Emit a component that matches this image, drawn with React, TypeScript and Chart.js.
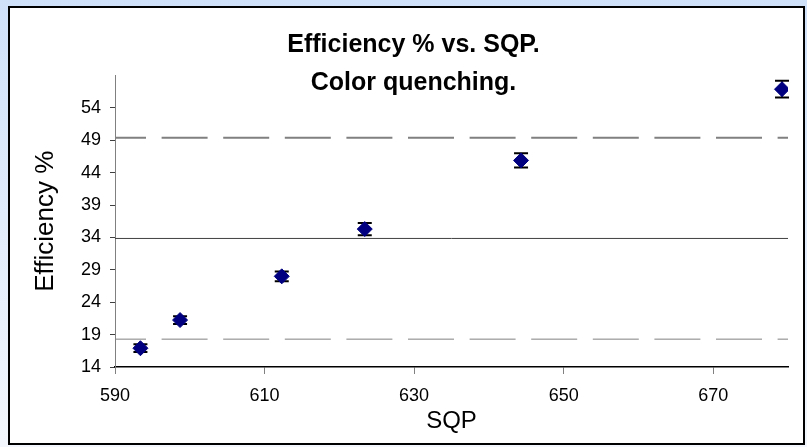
import React, { useEffect, useRef } from "react";
import { Chart, registerables } from "chart.js";

Chart.register(...registerables);

// ---- data ----
const sqp = [593.4, 598.7, 612.3, 623.4, 644.3, 679.2];
const efficiency = [16.9, 21.25, 28.0, 35.3, 45.9, 56.9];
const efficiencyError = [0.6, 0.6, 0.75, 0.95, 1.1, 1.3];
const refRange = [590, 680];
const upperLimit = 49.4;
const meanLine = 33.85;
const lowerLimit = 18.3;
const xTicks = [590, 610, 630, 650, 670];
const yTicks = [14, 19, 24, 29, 34, 39, 44, 49, 54];
const titleLines = ["Efficiency % vs. SQP.", "Color quenching."];
const xTitle = "SQP";
const yTitle = "Efficiency %";

const FONT = '"Liberation Sans", Arial, sans-serif';

const errorBarPlugin = {
  id: "errorBars",
  beforeDatasetsDraw(chart: any) {
    const ctx = chart.ctx;
    const xs = chart.scales.x;
    const ys = chart.scales.y;
    ctx.save();
    ctx.strokeStyle = "#000000";
    sqp.forEach((xv, i) => {
      const px = xs.getPixelForValue(xv);
      const top = ys.getPixelForValue(efficiency[i] + efficiencyError[i]);
      const bot = ys.getPixelForValue(efficiency[i] - efficiencyError[i]);
      ctx.lineWidth = 1.5;
      ctx.beginPath();
      ctx.moveTo(px, top);
      ctx.lineTo(px, bot);
      ctx.stroke();
      ctx.lineWidth = 2;
      ctx.beginPath();
      ctx.moveTo(px - 7, top);
      ctx.lineTo(px + 7, top);
      ctx.moveTo(px - 7, bot);
      ctx.lineTo(px + 7, bot);
      ctx.stroke();
    });
    ctx.restore();
  },
};

const titlePlugin = {
  id: "twoLineTitle",
  afterDraw(chart: any) {
    const ctx = chart.ctx;
    ctx.save();
    ctx.font = "bold 25px " + FONT;
    ctx.fillStyle = "#000000";
    ctx.textAlign = "center";
    ctx.textBaseline = "alphabetic";
    const cx = chart.width / 2 + 7;
    ctx.fillText(titleLines[0], cx, 44);
    ctx.fillText(titleLines[1], cx, 82);
    ctx.restore();
  },
};

export default function App() {
  const ref = useRef<HTMLCanvasElement | null>(null);

  useEffect(() => {
    if (!ref.current) return;
    const refLine = (v: number) => [
      { x: refRange[0], y: v },
      { x: refRange[1], y: v },
    ];
    const chart = new Chart(ref.current, {
      type: "scatter",
      data: {
        datasets: [
          {
            type: "scatter",
            label: "Efficiency",
            data: sqp.map((x, i) => ({ x, y: efficiency[i] })),
            pointStyle: "rectRot",
            pointRadius: 7.5,
            pointHoverRadius: 7.5,
            backgroundColor: "#000080",
            borderColor: "#000080",
            borderWidth: 1,
          } as any,
          {
            type: "line",
            label: "upper",
            data: refLine(upperLimit),
            borderColor: "#808080",
            borderWidth: 2,
            borderDash: [46, 15.6],
            borderDashOffset: 15,
            pointRadius: 0,
            showLine: true,
            fill: false,
          } as any,
          {
            type: "line",
            label: "mean",
            data: refLine(meanLine),
            borderColor: "#404040",
            borderWidth: 1,
            pointRadius: 0,
            showLine: true,
            fill: false,
          } as any,
          {
            type: "line",
            label: "lower",
            data: refLine(lowerLimit),
            borderColor: "#808080",
            borderWidth: 1,
            borderDash: [46, 15.6],
            borderDashOffset: 15,
            pointRadius: 0,
            showLine: true,
            fill: false,
          } as any,
        ],
      },
      options: {
        animation: false,
        responsive: false,
        devicePixelRatio: 1,
        layout: { padding: { top: 67.6, right: 15, left: 0, bottom: 0 } },
        plugins: {
          legend: { display: false },
          tooltip: { enabled: false },
          title: { display: false },
        },
        scales: {
          x: {
            type: "linear",
            min: 590,
            max: 680,
            afterBuildTicks: (scale: any) => {
              scale.ticks = xTicks.map((v) => ({ value: v }));
            },
            afterFit: (scale: any) => {
              scale.height = 76;
            },
            grid: {
              drawOnChartArea: false,
              drawTicks: true,
              tickLength: 7,
              color: "#808080",
            },
            border: { display: true, color: "#000000", width: 1.5 },
            ticks: {
              padding: 11,
              color: "#000000",
              font: { size: 18, family: FONT },
              maxRotation: 0,
            },
            title: {
              display: true,
              text: xTitle,
              color: "#000000",
              font: { size: 24, family: FONT },
              padding: { top: 0, bottom: 7 },
            },
          },
          y: {
            type: "linear",
            min: 14,
            max: 59,
            afterBuildTicks: (scale: any) => {
              scale.ticks = yTicks.map((v) => ({ value: v }));
            },
            afterFit: (scale: any) => {
              scale.width = 105;
            },
            grid: {
              drawOnChartArea: false,
              drawTicks: true,
              tickLength: 5,
              color: "#404040",
            },
            border: { display: true, color: "#808080", width: 1 },
            ticks: {
              padding: 9,
              color: "#000000",
              font: { size: 18, family: FONT },
            },
            title: {
              display: true,
              text: yTitle,
              color: "#000000",
              font: { size: 26, family: FONT },
              padding: { top: 20, bottom: 0 },
            },
          },
        },
      },
      plugins: [errorBarPlugin, titlePlugin],
    } as any);
    return () => chart.destroy();
  }, []);

  return (
    <div
      style={{
        position: "absolute",
        left: 0,
        top: 0,
        width: 807,
        height: 447,
        background: "linear-gradient(180deg, #cfe1f9 0%, #f3f7fd 100%)",
        overflow: "hidden",
      }}
    >
      <div
        style={{
          position: "absolute",
          left: 8,
          top: 6,
          width: 797,
          height: 439,
          boxSizing: "border-box",
          border: "2px solid #000000",
          background: "#ffffff",
        }}
      >
        <canvas ref={ref} width={793} height={435} style={{ display: "block", width: 793, height: 435 }} />
      </div>
    </div>
  );
}
